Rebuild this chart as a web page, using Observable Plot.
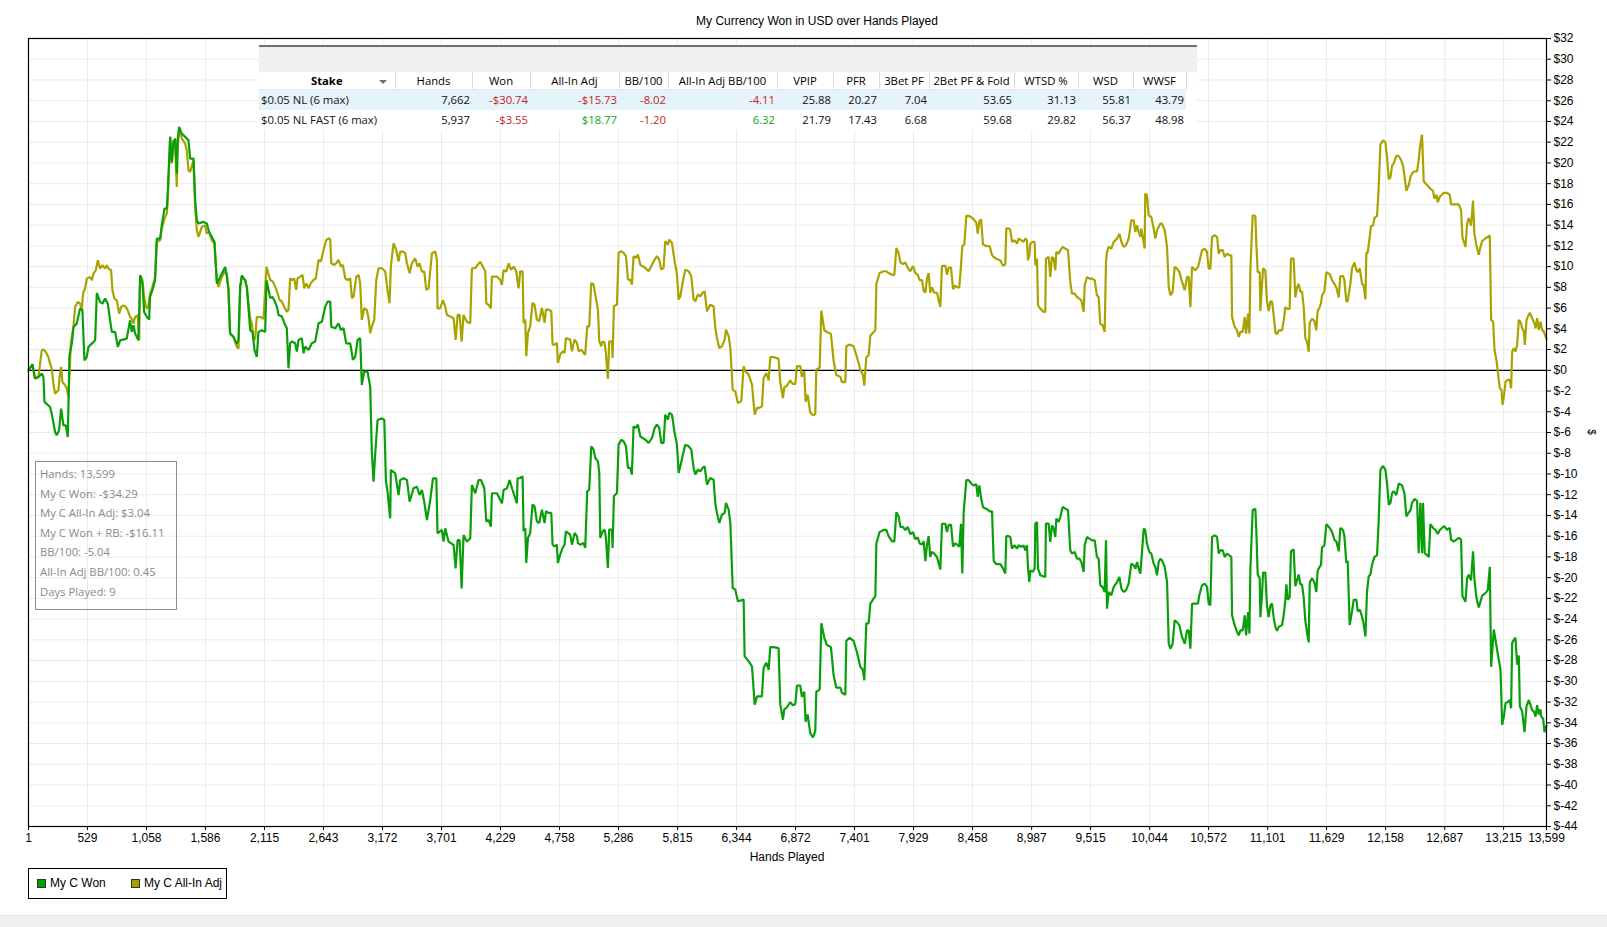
<!DOCTYPE html>
<html><head><meta charset="utf-8">
<script src="https://cdn.jsdelivr.net/npm/d3@7"></script>
<script src="https://cdn.jsdelivr.net/npm/@observablehq/plot@0.6"></script>
<style>
body{margin:0;background:#fff;}
#wrap{position:relative;width:1607px;height:927px;overflow:hidden;font-family:"Liberation Sans",Arial,sans-serif;color:#000;}
#wrap svg{position:absolute;left:0;top:0;}
.abs{position:absolute;}
#title{left:617px;width:400px;top:14px;text-align:center;font-size:12px;line-height:15px;}
#xlabel{left:687px;width:200px;top:850px;text-align:center;font-size:12px;line-height:15px;}
#ylabel{left:1585px;top:426px;width:12px;height:12px;font-size:10px;line-height:12px;text-align:center;transform:rotate(90deg);}
#legend{left:28px;top:868px;width:199px;height:31px;border:1px solid #000;box-sizing:border-box;font-size:12px;}
.lgsq{position:absolute;width:7px;height:7px;border:1px solid #333;top:10px;}
.lgtx{position:absolute;top:7px;line-height:14px;}
#tip{left:35px;top:461px;width:142px;height:149px;border:1px solid #8c8c8c;box-sizing:border-box;font-family:"Open Sans",sans-serif;font-size:11.3px;color:#8a8a8a;}
.tipl{position:absolute;left:4px;line-height:16px;white-space:nowrap;}
#tblbg{left:259px;top:45px;width:938px;height:85px;background:#fff;}
#tbltop{left:259px;top:45px;width:938px;height:2px;background:#6e6e6e;}
#tblband{left:259px;top:47px;width:938px;height:25px;background:#f0f0f0;}
#tbl{position:absolute;left:259px;top:72px;border-collapse:collapse;table-layout:fixed;width:927px;font-family:"Open Sans",sans-serif;font-size:11.3px;}
#tbl th{font-weight:normal;height:17px;padding:0 2px;text-align:center;border-right:1px solid #dcdcdc;border-bottom:1px solid #e6e6e6;white-space:nowrap;overflow:hidden;line-height:17px;}
#tbl td{height:20px;padding:0 2px;text-align:right;white-space:nowrap;overflow:hidden;line-height:20px;}
#tbl tr.r1 td{background:#e5f3fb;}
#tbl td.stake{text-align:left;padding-left:2px;}
#bottom{left:0;top:915px;width:1607px;height:12px;background:#f0f0f0;border-top:1px solid #e4e4e4;}
</style></head><body><div id="wrap"></div>
<script>
// ---------- axis ticks ----------
const xTicks = [1,529,1058,1586,2115,2643,3172,3701,4229,4758,5286,5815,6344,6872,7401,7929,8458,8987,9515,10044,10572,11101,11629,12158,12687,13215,13599];
const yTicks = [-44,-42,-40,-38,-36,-34,-32,-30,-28,-26,-24,-22,-20,-18,-16,-14,-12,-10,-8,-6,-4,-2,0,2,4,6,8,10,12,14,16,18,20,22,24,26,28,30,32];

// ---------- series: My C Won ----------
const wonHands = [1,36,60,90,120,135,144,194,209,239,254,275,293,314,335,353,368,389,404,433,463,484,502,523,538,568,598,613,642,663,687,711,747,777,801,822,881,911,926,941,956,986,1001,1022,1037,1061,1082,1090,1111,1135,1150,1180,1195,1219,1240,1249,1270,1285,1300,1315,1329,1338,1350,1374,1404,1434,1449,1479,1494,1509,1524,1568,1598,1619,1643,1667,1688,1718,1748,1763,1778,1792,1807,1837,1867,1882,1897,1912,1942,1957,1987,2008,2026,2046,2061,2091,2121,2133,2166,2187,2202,2226,2241,2271,2300,2315,2330,2345,2360,2390,2405,2420,2450,2465,2480,2510,2539,2569,2599,2629,2659,2680,2704,2713,2748,2778,2799,2823,2847,2883,2907,2928,2949,2972,2987,3008,3038,3062,3077,3092,3107,3128,3167,3188,3203,3217,3241,3247,3286,3316,3331,3361,3391,3415,3450,3480,3504,3525,3546,3570,3600,3624,3654,3665,3704,3719,3734,3764,3809,3827,3845,3863,3881,3898,3928,3958,3973,4003,4033,4054,4084,4102,4123,4143,4152,4197,4242,4257,4287,4311,4332,4376,4382,4406,4427,4436,4451,4460,4475,4495,4516,4534,4555,4576,4600,4624,4636,4660,4684,4696,4713,4734,4743,4764,4785,4803,4815,4854,4869,4893,4914,4923,4943,4973,4988,5006,5024,5042,5063,5078,5102,5114,5123,5144,5162,5173,5191,5203,5227,5233,5245,5272,5287,5311,5332,5353,5371,5392,5406,5421,5442,5460,5481,5502,5526,5556,5586,5610,5630,5651,5669,5690,5705,5729,5741,5765,5789,5810,5825,5840,5860,5884,5914,5938,5959,5974,5998,6019,6040,6058,6079,6108,6138,6153,6168,6189,6213,6237,6249,6273,6288,6309,6332,6356,6407,6416,6452,6482,6506,6527,6548,6571,6586,6610,6631,6646,6675,6720,6735,6759,6771,6795,6825,6846,6870,6885,6914,6929,6950,6962,6980,7004,7028,7049,7058,7088,7103,7130,7153,7189,7213,7237,7273,7288,7318,7327,7357,7392,7422,7452,7476,7488,7506,7527,7542,7572,7587,7596,7625,7661,7685,7706,7736,7757,7775,7796,7811,7834,7855,7876,7900,7924,7945,7966,7984,8005,8020,8035,8050,8064,8079,8094,8115,8139,8169,8184,8214,8229,8244,8265,8283,8303,8318,8339,8354,8366,8378,8402,8423,8453,8468,8492,8504,8519,8534,8551,8587,8611,8632,8647,8671,8707,8730,8751,8760,8781,8796,8811,8835,8856,8870,8894,8915,8930,8945,8954,8966,8975,8996,9014,9020,9035,9044,9065,9109,9115,9139,9154,9169,9184,9199,9208,9229,9244,9265,9289,9313,9333,9348,9372,9393,9414,9432,9453,9462,9483,9504,9528,9552,9572,9587,9602,9623,9641,9653,9662,9677,9701,9722,9752,9773,9791,9811,9832,9856,9880,9901,9916,9931,9946,9961,9970,9991,10005,10020,10041,10059,10080,10095,10110,10125,10140,10155,10179,10200,10215,10230,10250,10268,10289,10310,10334,10358,10379,10394,10409,10424,10454,10477,10489,10513,10537,10558,10573,10588,10603,10627,10648,10663,10678,10699,10716,10737,10758,10776,10782,10806,10827,10842,10857,10878,10896,10908,10926,10938,10946,10967,10991,11000,11012,11030,11036,11051,11060,11080,11095,11110,11125,11140,11155,11170,11185,11200,11230,11245,11260,11269,11281,11298,11310,11334,11349,11364,11379,11394,11409,11424,11439,11454,11469,11478,11499,11519,11537,11549,11567,11579,11588,11609,11627,11657,11678,11699,11717,11738,11752,11776,11788,11806,11818,11836,11857,11872,11896,11908,11926,11938,11956,11962,11977,11991,12006,12021,12036,12057,12081,12096,12111,12135,12156,12171,12186,12201,12216,12230,12254,12275,12305,12326,12344,12365,12380,12395,12416,12440,12454,12469,12484,12493,12508,12529,12544,12559,12583,12604,12625,12643,12663,12684,12708,12732,12744,12768,12792,12813,12834,12846,12873,12888,12902,12923,12941,12953,12971,12992,13007,13022,13043,13061,13073,13091,13103,13127,13157,13187,13202,13217,13232,13253,13270,13282,13291,13306,13321,13336,13351,13360,13381,13402,13420,13441,13456,13471,13486,13501,13515,13530,13545,13551,13569,13581,13599];
const wonValues = [0,0.58,-0.80,-0.64,-0.32,-0.64,-3.05,-3.54,-4.18,-5.95,-6.27,-5.79,-3.70,-5.31,-5.31,-6.43,1.45,2.57,4.18,4.50,5.95,5.79,0.96,1.29,2.25,2.57,2.89,7.46,6.59,6.43,6.91,6.43,3.70,3.70,2.25,2.89,3.05,4.82,3.70,4.34,3.54,2.89,9.16,8.36,5.63,5.14,4.89,7.07,7.72,8.68,12.70,12.70,13.99,15.59,15.59,17.36,22.51,20.10,22.03,22.35,18.97,22.19,23.47,22.83,22.51,22.19,20.42,20.42,16.40,14.47,14.15,14.31,14.15,13.34,12.86,12.38,8.36,9.00,9.65,9.97,9.00,7.88,3.54,3.22,2.57,2.89,8.04,9.16,8.68,8.04,3.86,3.70,1.93,1.29,3.70,3.86,3.70,8.68,7.00,7.07,6.78,6.14,5.34,5.18,4.37,4.05,0.19,2.60,2.77,2.60,1.80,2.93,3.09,1.64,2.28,1.96,2.60,2.77,4.53,4.69,6.14,6.62,6.62,4.21,4.05,4.53,3.89,4.05,2.60,2.60,1.00,1.32,2.93,3.09,-1.41,-0.13,-0.13,-1.58,-8.01,-10.74,-8.01,-4.79,-4.63,-4.79,-10.74,-11.70,-14.28,-9.61,-9.94,-12.03,-10.58,-10.42,-10.58,-12.67,-11.38,-11.22,-12.03,-11.54,-12.67,-14.44,-12.51,-10.42,-10.42,-15.72,-15.40,-16.53,-15.24,-16.53,-16.85,-19.10,-16.37,-16.37,-21.03,-15.88,-16.53,-16.21,-11.06,-11.86,-10.58,-10.58,-11.38,-14.60,-14.44,-15.08,-11.86,-11.86,-12.83,-11.54,-11.38,-10.58,-11.38,-12.83,-10.42,-10.39,-10.23,-15.53,-15.21,-18.59,-16.17,-15.69,-12.96,-13.12,-14.57,-14.73,-13.44,-14.73,-13.60,-13.76,-13.76,-16.82,-16.98,-16.82,-18.59,-17.78,-17.14,-16.82,-15.53,-15.85,-16.82,-15.69,-16.01,-16.66,-16.82,-16.66,-17.14,-11.67,-11.51,-7.33,-7.65,-8.46,-8.78,-9.90,-16.17,-15.53,-15.37,-16.17,-19.07,-15.37,-15.37,-17.14,-12.15,-11.83,-7.17,-6.69,-6.85,-7.33,-9.42,-9.42,-10.06,-5.40,-5.56,-5.24,-6.37,-6.53,-6.69,-7.01,-6.53,-5.56,-5.24,-5.56,-7.01,-7.01,-4.28,-4.76,-4.12,-4.28,-6.05,-7.17,-9.90,-9.26,-8.30,-7.17,-7.33,-7.65,-9.42,-10.06,-9.58,-9.74,-9.42,-9.26,-11.03,-10.39,-10.55,-12.80,-13.76,-14.73,-13.92,-13.76,-12.80,-13.44,-14.73,-21.00,-21.16,-22.28,-22.12,-27.59,-28.07,-28.55,-32.25,-31.45,-31.45,-31.45,-28.71,-28.2,-28.9,-26.7,-26.7,-26.8,-32.2,-33.7,-32.7,-32.5,-32.0,-32.3,-32.2,-30.4,-30.4,-31.5,-31.0,-33.9,-33.2,-35.0,-35.4,-34.8,-31.0,-30.8,-24.4,-25.8,-26.5,-26.7,-29.4,-30.6,-30.6,-31.1,-31.3,-26.1,-25.8,-26.1,-27.2,-28.6,-28.9,-29.9,-24.4,-24.4,-22.5,-22.0,-21.8,-16.7,-15.6,-15.4,-15.4,-16.0,-16.5,-16.5,-13.7,-14.1,-15.1,-15.1,-15.4,-15.1,-15.8,-15.6,-16.3,-16.1,-16.7,-16.8,-16.5,-18.4,-16.8,-16.0,-18.0,-17.5,-17.7,-18.0,-19.2,-14.8,-14.8,-15.6,-14.9,-14.9,-17.0,-16.7,-16.8,-17.0,-14.8,-19.6,-13.7,-10.6,-10.6,-11.0,-11.1,-11.0,-12.2,-11.1,-12.3,-13.2,-13.4,-13.6,-13.6,-18.4,-18.7,-18.7,-19.1,-19.6,-16.0,-16.0,-16.1,-17.20,-16.88,-17.20,-16.88,-17.04,-16.88,-17.36,-16.88,-18.97,-20.42,-19.29,-19.45,-19.13,-14.79,-14.63,-19.13,-19.77,-19.94,-14.79,-14.79,-16.56,-14.95,-15.27,-16.08,-14.31,-14.63,-14.15,-13.18,-13.34,-13.50,-17.36,-17.68,-17.52,-18.17,-18.17,-18.49,-19.45,-16.88,-16.08,-16.24,-16.40,-16.40,-18.01,-18.17,-20.74,-20.90,-21.38,-16.40,-22.99,-21.38,-21.70,-20.90,-20.42,-19.94,-21.06,-21.38,-21.22,-20.58,-18.65,-18.81,-19.13,-18.49,-19.13,-19.61,-18.33,-15.27,-15.43,-16.72,-17.52,-17.68,-18.65,-18.97,-19.77,-18.49,-18.17,-18.33,-18.97,-20.42,-26.37,-26.85,-26.37,-24.12,-24.28,-24.60,-25.72,-26.37,-25.08,-25.08,-26.85,-22.51,-22.51,-22.51,-21.70,-20.74,-20.58,-20.90,-22.51,-22.67,-16.08,-15.92,-16.08,-17.68,-17.36,-17.36,-18.01,-17.68,-17.85,-18.01,-23.63,-24.60,-25.24,-25.56,-25.08,-25.08,-23.63,-25.56,-23.31,-25.40,-19.29,-13.50,-13.35,-15.59,-19.70,-20.07,-23.81,-21.57,-19.51,-19.51,-22.69,-23.81,-22.69,-22.50,-23.81,-24.75,-25.12,-24.75,-24.56,-23.63,-22.13,-20.64,-22.13,-21.94,-17.46,-17.27,-20.82,-20.26,-19.70,-20.64,-20.64,-21.94,-24.19,-25.31,-26.24,-20.45,-20.07,-20.45,-21.38,-19.33,-18.95,-18.77,-17.08,-16.90,-14.84,-15.21,-15.59,-16.34,-16.52,-17.46,-15.21,-15.40,-15.96,-18.58,-18.39,-24.56,-23.25,-22.13,-22.13,-23.25,-23.07,-23.44,-24.19,-24.56,-25.68,-21.38,-19.89,-19.70,-18.77,-18.02,-17.83,-14.47,-9.61,-9.23,-9.61,-10.92,-12.97,-12.79,-11.85,-11.66,-12.04,-10.92,-11.10,-11.85,-14.10,-13.72,-13.53,-12.79,-12.41,-12.60,-17.64,-12.79,-17.64,-12.79,-17.64,-17.83,-18.02,-14.84,-15.21,-15.40,-15.78,-15.40,-15.21,-15.03,-15.40,-15.21,-16.34,-16.52,-16.34,-16.15,-16.34,-21.76,-22.32,-20.07,-19.70,-20.26,-17.46,-20.07,-21.94,-22.88,-22.32,-21.76,-21.57,-21.38,-21.20,-18.95,-28.6,-25.0,-27.0,-28.9,-34.2,-33.4,-32.1,-32.0,-31.8,-32.6,-26.3,-26.0,-25.8,-28.4,-27.5,-32.4,-32.9,-34.9,-32.4,-31.8,-32.3,-32.8,-32.9,-33.4,-32.3,-33.2,-32.7,-33.4,-33.6,-34.9,-34.29];

// ---------- series: My C All-In Adj ----------
const adjHands = [1,36,60,90,120,135,156,179,194,209,224,239,254,269,278,293,305,329,344,359,380,404,418,442,463,478,487,493,508,523,553,568,583,604,622,642,663,687,702,717,741,753,771,792,813,831,852,872,890,911,926,941,956,980,992,1001,1022,1037,1052,1070,1090,1111,1135,1150,1180,1195,1219,1240,1249,1270,1285,1300,1315,1329,1338,1350,1374,1404,1419,1434,1449,1479,1494,1509,1524,1553,1583,1598,1619,1643,1667,1688,1703,1733,1757,1778,1792,1807,1837,1867,1882,1897,1912,1942,1957,1987,2002,2017,2032,2046,2076,2106,2133,2166,2190,2211,2232,2250,2271,2291,2315,2330,2345,2360,2381,2399,2411,2435,2456,2471,2489,2510,2530,2554,2575,2599,2620,2644,2668,2692,2704,2713,2740,2757,2778,2799,2817,2838,2859,2883,2898,2913,2937,2958,2972,2987,3008,3032,3047,3062,3077,3098,3116,3137,3167,3197,3217,3235,3247,3271,3295,3316,3331,3355,3376,3391,3415,3435,3465,3486,3504,3525,3546,3564,3585,3615,3645,3660,3665,3689,3713,3734,3749,3779,3809,3827,3845,3863,3881,3898,3928,3958,3973,4003,4024,4048,4078,4093,4102,4123,4143,4152,4197,4227,4242,4257,4281,4302,4323,4347,4370,4391,4406,4427,4436,4451,4460,4475,4495,4516,4534,4555,4576,4600,4624,4636,4660,4684,4696,4713,4734,4743,4764,4785,4803,4815,4854,4869,4893,4914,4929,4952,4973,4988,5006,5024,5042,5063,5078,5102,5114,5132,5144,5162,5173,5191,5203,5227,5233,5245,5272,5287,5311,5332,5353,5371,5392,5406,5421,5442,5460,5481,5502,5526,5556,5586,5610,5630,5651,5669,5690,5705,5729,5741,5765,5789,5810,5825,5840,5860,5884,5914,5938,5959,5974,5998,6019,6040,6058,6079,6108,6138,6153,6168,6189,6213,6237,6249,6273,6288,6309,6332,6356,6386,6407,6422,6452,6482,6506,6527,6548,6571,6586,6610,6631,6646,6675,6720,6735,6759,6771,6795,6825,6846,6870,6885,6914,6929,6950,6962,6980,7004,7028,7049,7058,7088,7103,7130,7153,7189,7213,7237,7273,7288,7318,7327,7357,7392,7422,7452,7476,7488,7506,7527,7542,7572,7587,7596,7625,7661,7685,7706,7736,7757,7775,7796,7811,7834,7855,7876,7900,7924,7945,7966,7984,8005,8020,8035,8050,8064,8079,8094,8115,8139,8169,8184,8214,8229,8244,8265,8283,8303,8318,8339,8354,8366,8384,8402,8423,8453,8468,8492,8504,8519,8534,8551,8587,8611,8632,8647,8671,8707,8730,8751,8760,8781,8796,8811,8835,8856,8870,8894,8915,8930,8945,8954,8966,8975,8996,9014,9020,9035,9044,9065,9095,9109,9115,9139,9154,9169,9184,9199,9208,9229,9244,9265,9289,9313,9333,9348,9372,9393,9414,9432,9453,9462,9483,9504,9528,9552,9572,9587,9602,9623,9641,9653,9662,9677,9701,9722,9752,9773,9791,9811,9832,9856,9880,9901,9916,9931,9946,9961,9970,9999,10005,10020,10035,10059,10080,10095,10110,10125,10140,10155,10179,10200,10215,10230,10250,10268,10289,10310,10334,10358,10379,10394,10409,10424,10454,10477,10489,10513,10537,10558,10573,10588,10603,10627,10648,10663,10678,10699,10716,10737,10758,10776,10782,10806,10827,10842,10857,10878,10896,10908,10926,10938,10946,10967,10991,11000,11012,11030,11036,11051,11060,11080,11095,11110,11125,11140,11155,11170,11185,11200,11230,11245,11260,11281,11298,11310,11334,11349,11364,11379,11394,11409,11424,11439,11454,11469,11478,11499,11519,11537,11549,11567,11579,11588,11609,11627,11657,11678,11699,11717,11738,11752,11776,11788,11806,11818,11842,11857,11878,11896,11908,11926,11947,11962,11977,11985,11997,12015,12027,12045,12057,12081,12096,12111,12135,12156,12171,12186,12201,12216,12230,12254,12275,12296,12314,12326,12344,12365,12380,12395,12416,12440,12454,12469,12484,12493,12499,12529,12559,12583,12595,12613,12625,12643,12663,12678,12708,12732,12744,12768,12813,12834,12846,12873,12888,12902,12923,12941,12953,12971,12992,13007,13022,13043,13061,13073,13091,13103,13121,13133,13151,13163,13181,13196,13205,13217,13232,13253,13270,13282,13291,13306,13321,13336,13351,13366,13381,13396,13405,13420,13432,13450,13471,13491,13501,13515,13530,13545,13560,13575,13599];
const adjValues = [0,0.58,-0.80,-0.64,1.93,1.99,1.77,1.29,0.64,0.16,-1.29,-2.25,-2.09,-1.93,-0.80,0.32,-1.13,-1.45,-1.77,-2.57,2.57,4.18,6.11,6.59,6.43,5.79,7.07,7.56,7.88,8.84,9.00,8.68,9.32,9.65,10.61,9.81,10.13,9.81,10.13,9.81,9.65,7.72,6.91,6.75,5.47,6.11,6.27,6.11,5.79,5.14,4.98,4.50,5.14,5.31,2.89,9.16,8.68,7.07,6.11,5.95,7.40,8.04,9.00,12.38,12.54,13.67,14.63,15.11,16.40,22.51,19.94,22.19,21.86,17.68,21.54,23.31,22.35,21.86,21.22,19.29,19.13,20.26,15.76,13.50,12.86,13.83,13.99,13.18,13.34,12.54,12.22,8.68,8.04,9.00,9.49,9.32,7.72,3.54,3.22,2.25,2.09,8.04,9.00,8.68,7.88,4.98,4.50,2.89,3.05,5.14,5.14,4.98,9.97,8.71,8.55,8.07,7.43,6.78,6.62,6.14,5.66,5.82,8.87,8.71,8.87,7.75,8.87,9.04,9.20,7.91,8.39,7.91,8.39,8.71,8.87,10.64,10.48,11.61,12.57,12.73,12.57,10.32,10.16,10.32,10.64,10.00,10.16,8.87,8.71,8.87,6.95,7.11,9.04,9.20,8.39,4.86,5.98,5.82,5.02,3.57,4.21,4.86,8.71,9.84,9.84,9.52,7.75,6.46,10.00,12.25,11.61,10.48,11.45,11.45,11.29,10.32,9.36,10.32,10.80,10.00,10.32,9.52,9.52,7.75,7.91,11.29,11.45,10.64,5.98,5.98,6.78,6.14,5.34,5.18,5.02,2.93,5.34,5.34,2.77,5.34,4.69,4.53,9.84,9.84,10.16,10.48,9.84,9.52,6.46,6.30,5.98,9.04,9.04,8.71,8.23,9.68,9.52,10.32,9.68,10.00,9.52,7.91,9.55,9.55,4.57,4.89,1.35,3.60,4.24,6.50,6.33,4.89,4.73,6.01,4.57,5.85,5.85,5.69,2.48,2.48,2.64,0.71,1.51,1.83,1.67,3.12,2.96,1.83,2.96,2.64,1.83,1.99,1.67,1.51,4.24,4.24,8.42,8.26,7.30,5.85,2.80,2.32,2.80,2.64,1.67,-0.84,2.80,2.80,1.19,6.17,6.33,11.32,11.48,11.32,11.00,8.75,8.75,8.26,11.00,10.84,11.16,10.19,10.03,9.87,9.55,10.19,10.68,11.00,10.68,9.71,9.87,12.44,12.12,12.60,12.28,10.51,9.23,6.82,7.14,8.42,9.71,9.55,9.07,6.82,6.66,7.30,7.14,7.46,7.62,5.69,6.33,6.17,4.08,3.12,2.15,2.32,2.96,3.92,3.28,2.15,-1.86,-2.03,-3.15,-2.99,0.39,-0.10,-0.42,-1.38,-4.28,-3.63,-3.63,-3.47,-0.74,-0.28,-0.97,1.28,1.28,1.10,-1.14,-2.69,-1.66,-1.48,-0.97,-1.31,-1.31,0.41,0.41,-0.62,-0.10,-3.03,-2.34,-4.07,-4.34,-4.24,0.07,0.24,5.76,3.86,3.69,3.52,0.93,-0.45,-0.62,-1.14,-1.14,2.31,2.48,2.31,1.28,0.07,-0.45,-1.48,1.28,1.45,3.34,3.69,3.86,8.34,9.38,9.55,9.55,9.38,9.21,9.21,11.79,11.28,10.41,10.24,10.41,9.90,9.55,10.07,9.38,9.21,8.69,8.69,7.66,7.48,8.86,9.38,7.48,8.00,7.48,7.48,6.10,10.07,10.07,9.21,9.90,9.90,7.83,8.17,8.00,8.00,10.07,11.97,12.14,14.90,14.90,14.72,14.55,14.21,13.17,14.38,14.55,12.14,11.97,11.97,11.10,10.93,10.76,10.59,10.07,10.24,13.69,13.69,13.52,12.38,12.54,12.22,12.70,12.54,12.38,12.70,12.54,10.61,11.09,12.22,12.38,12.38,10.13,10.77,6.27,5.95,5.63,5.63,10.77,10.93,9.00,10.93,10.77,9.65,11.41,11.25,11.58,11.90,11.74,11.58,8.52,7.40,7.40,7.07,6.91,6.75,5.63,8.20,9.00,8.84,8.84,8.68,7.23,7.07,4.50,4.34,3.70,10.45,11.41,11.90,11.74,12.38,12.70,13.18,12.38,11.90,12.06,12.70,14.47,14.47,13.34,13.99,13.34,12.86,13.67,11.74,17.04,16.88,14.95,14.79,13.67,12.70,13.50,13.83,14.15,14.15,13.50,11.90,8.04,7.23,7.56,9.97,9.81,9.49,8.52,7.72,9.00,9.00,6.11,9.97,9.65,9.97,10.45,11.58,11.74,11.41,9.81,9.81,12.86,13.02,12.86,11.25,11.58,11.58,10.93,11.25,11.09,11.09,5.14,4.18,3.86,3.22,3.70,3.70,5.14,3.54,5.47,3.54,9.65,14.95,14.88,12.07,9.46,9.46,5.72,8.34,9.83,9.64,6.65,5.72,6.65,6.65,5.35,3.66,3.48,3.85,3.85,4.79,6.09,5.91,5.91,10.77,10.77,7.03,7.96,8.34,7.59,7.59,6.09,3.10,2.73,1.79,4.60,4.97,4.79,3.85,5.72,6.09,6.47,7.21,7.59,9.46,9.27,8.71,8.34,7.96,7.03,9.08,9.08,8.71,6.65,6.65,8.34,9.83,10.39,9.64,9.46,9.83,8.34,8.15,6.84,11.33,11.33,12.82,13.94,13.94,14.69,14.88,17.68,21.79,22.17,21.98,20.49,18.43,18.62,19.74,19.93,20.67,20.67,20.30,19.74,18.80,17.31,17.87,18.62,18.99,19.18,19.18,20.30,21.79,22.73,20.11,18.24,17.87,17.50,17.31,16.56,16.93,16.19,16.75,16.93,17.12,17.12,16.93,16.00,16.00,16.00,15.44,12.82,11.89,14.13,14.69,13.94,16.37,13.20,12.07,11.14,11.89,12.45,12.64,12.82,12.82,13.01,4.86,4.69,1.96,0.99,-0.13,-1.74,-1.90,-3.34,-2.54,-1.09,-0.93,-0.93,-1.74,1.80,2.12,1.80,2.44,4.86,4.69,4.05,3.73,2.44,4.86,5.18,5.56,5.02,4.53,4.05,5.02,3.89,4.69,3.89,3.73,3.04];

// ---------- legend ----------
const seriesNames = ["My C Won","My C All-In Adj"];
const seriesColors = ["#0a9f0a","#a9a300"];
const legendSwatch = ["#00a000","#a0a000"];

// ---------- stats table ----------
const tableHeaders = ["Stake","Hands","Won","All-In Adj","BB/100","All-In Adj BB/100","VPIP","PFR","3Bet PF","2Bet PF & Fold","WTSD %","WSD","WWSF"];
const stakes = ["$0.05 NL (6 max)","$0.05 NL FAST (6 max)"];
const tHands = [7662,5937];
const tWon = [-30.74,-3.55];
const tAllInAdj = [-15.73,18.77];
const tBB100 = [-8.02,-1.20];
const tAiaBB100 = [-4.11,6.32];
const tVPIP = [25.88,21.79];
const tPFR = [20.27,17.43];
const t3Bet = [7.04,6.68];
const t2BetFold = [53.65,59.68];
const tWTSD = [31.13,29.82];
const tWSD = [55.81,56.37];
const tWWSF = [43.79,48.98];

// ---------- hover box ----------
const tipLabels = ["Hands","My C Won","My C All-In Adj","My C Won + RB","BB/100","All-In Adj BB/100","Days Played"];
const tipValues = ["13,599","-$34.29","$3.04","-$16.11","-5.04","0.45","9"];

const chartTitle = "My Currency Won in USD over Hands Played";
const xTitle = "Hands Played";

// ================= build =================
const wrap = document.getElementById("wrap");
const won = wonHands.map((h,i)=>({hand:h,value:wonValues[i]}));
const adj = adjHands.map((h,i)=>({hand:h,value:adjValues[i]}));

const chart = Plot.plot({
  width:1607, height:927,
  marginLeft:28, marginRight:61, marginTop:38, marginBottom:101,
  style:{fontFamily:"'Liberation Sans', Arial, sans-serif", fontSize:"12px", color:"#000", background:"transparent", overflow:"visible"},
  x:{domain:[1,13599]},
  y:{domain:[-44,32]},
  marks:[
    Plot.gridX(xTicks,{stroke:"#ebebeb", strokeOpacity:1}),
    Plot.gridY(yTicks,{stroke:"#ebebeb", strokeOpacity:1}),
    Plot.ruleY([0],{stroke:"#000", strokeWidth:1.2}),
    Plot.line(adj,{x:"hand",y:"value",stroke:seriesColors[1],strokeWidth:2.2,strokeLinejoin:"miter"}),
    Plot.line(won,{x:"hand",y:"value",stroke:seriesColors[0],strokeWidth:2.2,strokeLinejoin:"miter"}),
    Plot.axisX(xTicks,{tickFormat:d3.format(","), tickSize:4, tickPadding:3, fontSize:12, label:null}),
    Plot.axisY(yTicks,{anchor:"right", tickFormat:d=>"$"+d, tickSize:4, tickPadding:3, fontSize:12, label:null}),
    Plot.frame({stroke:"#000", strokeWidth:1.2})
  ]
});
wrap.appendChild(chart);

function el(tag, cls, id, html){const e=document.createElement(tag); if(cls) e.className=cls; if(id) e.id=id; if(html!==undefined) e.textContent=html; return e;}

wrap.appendChild(el("div","abs","title",chartTitle));
wrap.appendChild(el("div","abs","xlabel",xTitle));
wrap.appendChild(el("div","abs","ylabel","$"));

// legend
const lg = el("div","abs","legend");
const lgPos = [[8,21],[102,115]];
seriesNames.forEach((n,i)=>{
  const s = el("div","lgsq"); s.style.left=lgPos[i][0]+"px"; s.style.background=legendSwatch[i]; lg.appendChild(s);
  const t = el("div","lgtx",null,n); t.style.left=lgPos[i][1]+"px"; lg.appendChild(t);
});
wrap.appendChild(lg);

// hover box
const tip = el("div","abs","tip");
tipLabels.forEach((l,i)=>{
  const t = el("div","tipl",null,l+": "+tipValues[i]); t.style.top=(4+i*19.6)+"px"; tip.appendChild(t);
});
wrap.appendChild(tip);

// table
wrap.appendChild(el("div","abs","tblbg"));
wrap.appendChild(el("div","abs","tbltop"));
wrap.appendChild(el("div","abs","tblband"));
const colW = [136,77,58,89,49,109,56,46,50,85,64,55,53];
const money = v => (v<0?"-$":"$")+Math.abs(v).toFixed(2);
const red = "#c41f1f", green = "#17a317";
const tbl = document.createElement("table"); tbl.id="tbl";
const cg = document.createElement("colgroup");
colW.forEach(w=>{const c=document.createElement("col"); c.style.width=w+"px"; cg.appendChild(c);});
tbl.appendChild(cg);
const hr = document.createElement("tr");
tableHeaders.forEach((h,i)=>{
  const th=document.createElement("th");
  if(i===0){th.style.fontWeight="bold"; th.style.position="relative"; th.textContent=h;
    const ar=document.createElement("span"); ar.style.cssText="position:absolute;right:8px;top:8px;width:0;height:0;border-left:4px solid transparent;border-right:4px solid transparent;border-top:4px solid #6f6f6f;";
    th.appendChild(ar);}
  else th.textContent=h;
  hr.appendChild(th);
});
tbl.appendChild(hr);
stakes.forEach((s,r)=>{
  const tr=document.createElement("tr"); if(r===0) tr.className="r1";
  const cells = [
    [s,null],
    [d3.format(",")(tHands[r]),null],
    [money(tWon[r]), tWon[r]<0?red:green],
    [money(tAllInAdj[r]), tAllInAdj[r]<0?red:green],
    [tBB100[r].toFixed(2), tBB100[r]<0?red:green],
    [tAiaBB100[r].toFixed(2), tAiaBB100[r]<0?red:green],
    [tVPIP[r].toFixed(2),null],[tPFR[r].toFixed(2),null],[t3Bet[r].toFixed(2),null],
    [t2BetFold[r].toFixed(2),null],[tWTSD[r].toFixed(2),null],[tWSD[r].toFixed(2),null],[tWWSF[r].toFixed(2),null]
  ];
  cells.forEach((c,i)=>{const td=document.createElement("td"); td.textContent=c[0]; if(i===0) td.className="stake"; td.style.color=c[1]||"#111"; tr.appendChild(td);});
  tbl.appendChild(tr);
});
wrap.appendChild(tbl);

wrap.appendChild(el("div","abs","bottom"));
</script>
</body></html>
